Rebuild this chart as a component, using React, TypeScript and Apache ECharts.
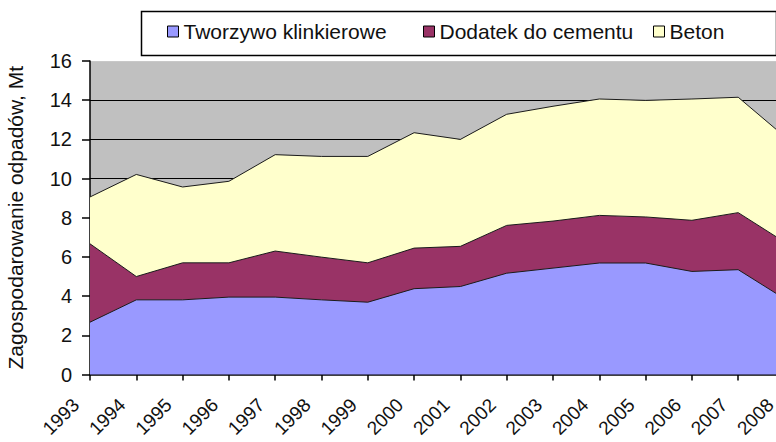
import React, { useEffect, useRef } from "react";
import * as echarts from "echarts";

const years = ["1993","1994","1995","1996","1997","1998","1999","2000","2001","2002","2003","2004","2005","2006","2007","2008"];
const tworzywo = [2.67, 3.81, 3.81, 3.95, 3.95, 3.81, 3.69, 4.38, 4.49, 5.17, 5.43, 5.69, 5.69, 5.26, 5.35, 3.87];
const dodatek = [4.0, 1.19, 1.89, 1.75, 2.35, 2.18, 2.01, 2.07, 2.05, 2.44, 2.4, 2.43, 2.35, 2.61, 2.91, 2.89];
const beton = [2.39, 5.21, 3.87, 4.16, 4.92, 5.14, 5.43, 5.89, 5.46, 5.67, 5.86, 5.94, 5.95, 6.19, 5.89, 5.39];
const seriesNames = ["Tworzywo klinkierowe", "Dodatek do cementu", "Beton"];
const seriesColors = ["#9999FF", "#993366", "#FFFFCC"];
const yTicks = { min: 0, max: 16, interval: 2 };
const yName = "Zagospodarowanie odpadów, Mt";

const FONT = "'Liberation Sans', Arial, sans-serif";

export default function App() {
  const ref = useRef<HTMLDivElement>(null);
  useEffect(() => {
    document.body.style.margin = "0";
    const chart = echarts.init(ref.current!, null, { renderer: "svg" });
    const values = [tworzywo, dodatek, beton];
    const legendLefts = [167, 423, 653];
    chart.setOption({
      animation: false,
      textStyle: { fontFamily: FONT },
      grid: {
        left: 90,
        top: 61,
        width: 694.5,
        height: 313.5,
        containLabel: false,
        outerBoundsMode: "none",
        show: true,
        backgroundColor: "#C0C0C0",
        borderWidth: 0,
      },
      legend: seriesNames.map((n, i) => ({
        left: legendLefts[i],
        top: 21,
        padding: 0,
        itemWidth: 11,
        itemHeight: 11,
        icon: "rect",
        selectedMode: false,
        textStyle: { fontSize: 21, color: "#111", fontFamily: FONT },
        data: [
          {
            name: n,
            itemStyle: { color: seriesColors[i], borderColor: "#000", borderWidth: 1 },
          },
        ],
      })),
      graphic: [
        {
          type: "rect",
          left: 139,
          top: 9,
          shape: { width: 635, height: 44 },
          style: { fill: "none", stroke: "#000", lineWidth: 1.5 },
          z: 0,
        },
      ],
      xAxis: {
        type: "category",
        data: years,
        boundaryGap: false,
        axisLine: { show: true, lineStyle: { color: "#000", width: 1.5 } },
        axisTick: { show: true, length: 6, lineStyle: { color: "#000", width: 1.5 } },
        axisLabel: {
          rotate: 45,
          interval: 0,
          fontSize: 19,
          color: "#111",
          margin: 13,
          padding: [0, 20, 0, 0],
          fontFamily: FONT,
        },
        splitLine: { show: false },
      },
      yAxis: {
        type: "value",
        min: yTicks.min,
        max: yTicks.max,
        interval: yTicks.interval,
        name: yName,
        nameLocation: "middle",
        nameGap: 64,
        nameTextStyle: { fontSize: 21, color: "#111", fontFamily: FONT },
        axisLine: { show: true, lineStyle: { color: "#000", width: 1.5 } },
        axisTick: { show: true, length: 8, lineStyle: { color: "#000", width: 1.5 } },
        axisLabel: { fontSize: 20, color: "#111", margin: 18, fontFamily: FONT },
        splitLine: {
          show: true,
          lineStyle: { color: ["#000", "#000", "#000", "#000", "#000", "#000", "#000", "#000", "#C8C8C8"], width: 1.2 },
        },
      },
      series: seriesNames.map((n, i) => ({
        name: n,
        type: "line",
        stack: "total",
        data: values[i],
        showSymbol: false,
        symbol: "none",
        lineStyle: { color: "#1a1a1a", width: 1 },
        itemStyle: { color: seriesColors[i] },
        areaStyle: { color: seriesColors[i], opacity: 1 },
      })),
    });
    return () => chart.dispose();
  }, []);
  return (
    <div
      ref={ref}
      style={{ position: "absolute", left: 0, top: 0, width: 776, height: 442 }}
    />
  );
}
